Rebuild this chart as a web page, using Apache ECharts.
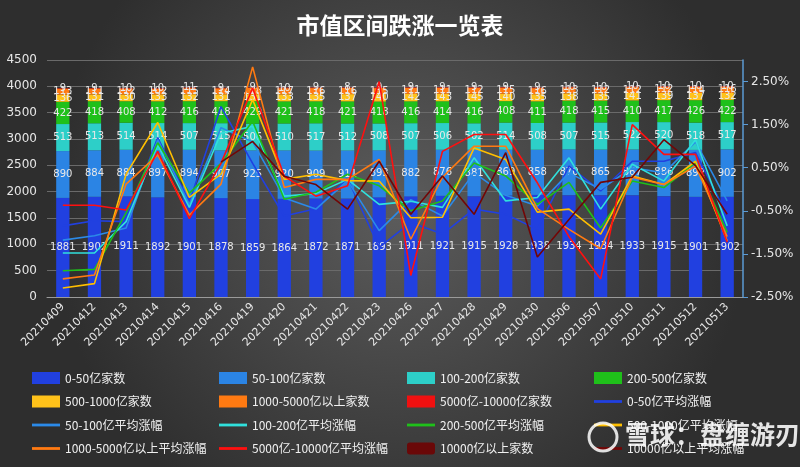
<!DOCTYPE html>
<html><head><meta charset="utf-8">
<script src="https://cdn.jsdelivr.net/npm/echarts@6/dist/echarts.min.js"></script>
<style>html,body{margin:0;padding:0;}#c{width:800px;height:467px;}</style>
</head><body><div id="c"></div>
<script>
const dates = ['20210409','20210412','20210413','20210414','20210415','20210416','20210419','20210420','20210421','20210422','20210423','20210426','20210427','20210428','20210429','20210430','20210506','20210507','20210510','20210511','20210512','20210513'];
// counts
const cnt0_50 = [1881,1902,1911,1892,1901,1878,1859,1864,1872,1871,1893,1911,1921,1915,1928,1938,1934,1934,1933,1915,1901,1902];
const cnt50_100 = [890,884,884,897,894,907,925,920,909,911,893,882,876,881,869,858,870,865,867,886,892,902];
const cnt100_200 = [513,513,514,514,507,515,506,510,517,512,508,507,506,502,514,508,507,515,522,520,518,517];
const cnt200_500 = [422,418,408,412,416,418,429,421,418,421,418,416,414,416,408,411,418,415,410,417,426,422];
const cnt500_1000 = [136,131,130,133,132,131,131,133,135,137,140,142,143,145,140,135,138,135,141,139,137,132];
const cnt1000_5000 = [113,111,112,102,115,114,118,117,116,116,115,111,111,112,115,116,113,112,112,112,114,116];
const cnt5000_10000 = [9,9,10,10,11,9,9,10,9,8,9,9,9,9,9,9,10,10,10,10,10,10];
const cnt10000 = [];
// average change (%)
const avg0_50 = [-0.85,-0.73,-0.75,1.2,-0.3,1.92,0.6,-0.62,-0.45,0.25,-1.35,-0.77,-1.04,-0.46,-0.58,-0.93,0.54,-0.04,0.65,0.65,0.85,-0.6];
const avg50_100 = [-1.18,-1.08,-0.9,1.15,-0.35,1.43,1.1,-0.2,-0.46,0.2,-0.96,-0.24,-0.62,0.38,-0.14,-0.39,0.38,0.0,0.5,0.38,1.1,-0.27];
const avg100_200 = [-1.48,-1.48,-0.75,1.03,-0.42,1.3,1.46,-0.16,-0.1,0.23,-0.35,-0.28,-0.42,0.73,-0.27,-0.19,0.73,-0.46,0.58,0.19,1.15,-0.85];
const avg200_500 = [-1.89,-1.86,-0.55,1.08,-0.09,0.6,1.58,-0.23,-0.07,0.35,0.08,-0.5,-0.27,0.61,0.31,-0.35,0.16,-0.9,0.19,0.04,0.62,-1.0];
const avg500_1000 = [-2.29,-2.19,0.35,1.55,-0.19,0.35,2.08,0.23,0.35,0.2,0.19,-0.66,-0.65,0.96,0.69,-0.53,-0.46,-1.04,0.31,0.11,0.65,-1.2];
const avg1000_5000 = [-2.08,-1.99,0.12,0.8,-0.6,0.12,2.84,0.04,0.23,0.23,0.69,-1.16,0.28,1.0,1.0,-0.45,-0.93,-1.38,0.28,0.11,0.54,-1.1];
const avg5000_10000 = [-0.37,-0.37,-0.48,0.88,-0.68,0.6,2.35,0.3,-0.16,0.08,2.5,-2.0,0.88,1.27,1.27,0.15,-1.1,-2.08,1.5,0.81,0.81,-1.23];
const avg10000 = [null,null,null,null,null,0.63,1.11,0.3,0.11,-0.46,0.65,-0.58,0.31,-0.58,0.85,-1.57,-0.7,0.16,0.28,1.15,0.55,-0.58];
const leftTicks = {min:0, max:4500, interval:500};
const rightTicks = {min:-2.5, max:3.0, interval:1};

const barDefs = [
  ['0-50亿家数', cnt0_50, '#2140e0'],
  ['50-100亿家数', cnt50_100, '#2b84e4'],
  ['100-200亿家数', cnt100_200, '#2dcfc8'],
  ['200-500亿家数', cnt200_500, '#1fc01a'],
  ['500-1000亿家数', cnt500_1000, '#ffc21a'],
  ['1000-5000亿以上家数', cnt1000_5000, '#ff7a12'],
  ['5000亿-10000亿家数', cnt5000_10000, '#f01010'],
];
const lineDefs = [
  ['0-50亿平均涨幅', avg0_50, '#2140e0'],
  ['50-100亿平均涨幅', avg50_100, '#2b8ae8'],
  ['100-200亿平均涨幅', avg100_200, '#30e0dc'],
  ['200-500亿平均涨幅', avg200_500, '#1fc01a'],
  ['500-1000亿平均涨幅', avg500_1000, '#ffbf00'],
  ['1000-5000亿以上平均涨幅', avg1000_5000, '#ff7a12'],
  ['5000亿-10000亿平均涨幅', avg5000_10000, '#ff1010'],
  ['10000亿以上平均涨幅', avg10000, '#720606'],
];
const series = [];
barDefs.forEach(([n,d,c])=>{
  series.push({name:n,type:'bar',stack:'cnt',data:d,barWidth:'42%',itemStyle:{color:c},
    label:{show:true,position:'inside',color:'#e8e8e8',fontSize:10,fontFamily:'DejaVu Sans'}});
});
series.push({name:'10000亿以上家数',type:'bar',stack:'cnt',data:cnt10000,itemStyle:{color:'#6a0808'}});
lineDefs.forEach(([n,d,c])=>{
  series.push({name:n,type:'line',yAxisIndex:1,data:d,symbol:'none',connectNulls:false,
    lineStyle:{color:c,width:1.6},itemStyle:{color:c},z:5});
});
const lineIcon = 'path://M0,0 L40,0 L40,4 L0,4 Z';
function legendItem(n){
  if(n.indexOf('平均涨幅')>=0) return {name:n, icon:lineIcon};
  if(n==='10000亿以上家数') return {name:n, icon:'roundRect'};
  return {name:n, icon:'rect'};
}
const cols = [
  ['0-50亿家数','500-1000亿家数','50-100亿平均涨幅','1000-5000亿以上平均涨幅'],
  ['50-100亿家数','1000-5000亿以上家数','100-200亿平均涨幅','5000亿-10000亿平均涨幅'],
  ['100-200亿家数','5000亿-10000亿家数','200-500亿平均涨幅','10000亿以上家数'],
  ['200-500亿家数','0-50亿平均涨幅','500-1000亿平均涨幅','10000亿以上平均涨幅'],
];
const colX = [27, 214, 402, 589];
const legends = cols.map((items,i)=>({
  orient:'vertical', left:colX[i], top:367, itemWidth:28, itemHeight:12, itemGap:11.5,
  data:items.map(legendItem),
  textStyle:{color:'#f0f0f0',fontSize:12,fontFamily:'Noto Sans CJK SC'}
}));
const chart = echarts.init(document.getElementById('c'));
chart.setOption({
  animation:false,
  backgroundColor:{type:'radial',x:0.5,y:0.45,r:0.75,colorStops:[{offset:0,color:'#5c5c5c'},{offset:1,color:'#2e2e2e'}]},
  title:{text:'市值区间跌涨一览表',left:'center',top:9,textStyle:{color:'#ffffff',fontSize:23,fontWeight:'bold',fontFamily:'Noto Sans CJK SC'}},
  legend:legends,
  grid:{left:47,right:57,top:60,bottom:170},
  xAxis:{type:'category',data:dates,
    axisLine:{lineStyle:{color:'#9a9a9a'}},axisTick:{lineStyle:{color:'#9a9a9a'},length:5},
    axisLabel:{rotate:45,color:'#e6e6e6',fontSize:11,fontFamily:'DejaVu Sans',margin:8}},
  yAxis:[
    {type:'value',min:leftTicks.min,max:leftTicks.max,interval:leftTicks.interval,
     axisLine:{show:false},axisTick:{show:false},
     splitLine:{lineStyle:{color:'#6a6a6a',width:1}},
     axisLabel:{color:'#e6e6e6',fontSize:12,fontFamily:'DejaVu Sans',margin:10,formatter:v=>String(v)}},
    {type:'value',position:'right',min:rightTicks.min,max:rightTicks.max,interval:rightTicks.interval,
     axisLine:{show:true,lineStyle:{color:'#5b9bd5',width:1.5}},
     axisTick:{show:true,length:5,lineStyle:{color:'#5b9bd5'}},
     splitLine:{show:false},
     axisLabel:{color:'#e6e6e6',fontSize:12,fontFamily:'DejaVu Sans',showMaxLabel:false,
       formatter:v=>v.toFixed(2)+'%'}}
  ],
  graphic:[
    {type:'circle',shape:{cx:603,cy:437,r:14},style:{fill:'none',stroke:'rgba(255,255,255,0.85)',lineWidth:3},z:100},
    {type:'text',left:625,top:422,style:{text:'雪球：盘缠游刃',fill:'rgba(255,255,255,0.88)',fontSize:25,fontFamily:'Noto Sans CJK SC',fontWeight:'bold'},z:100}
  ],
  series:series
});
</script></body></html>
